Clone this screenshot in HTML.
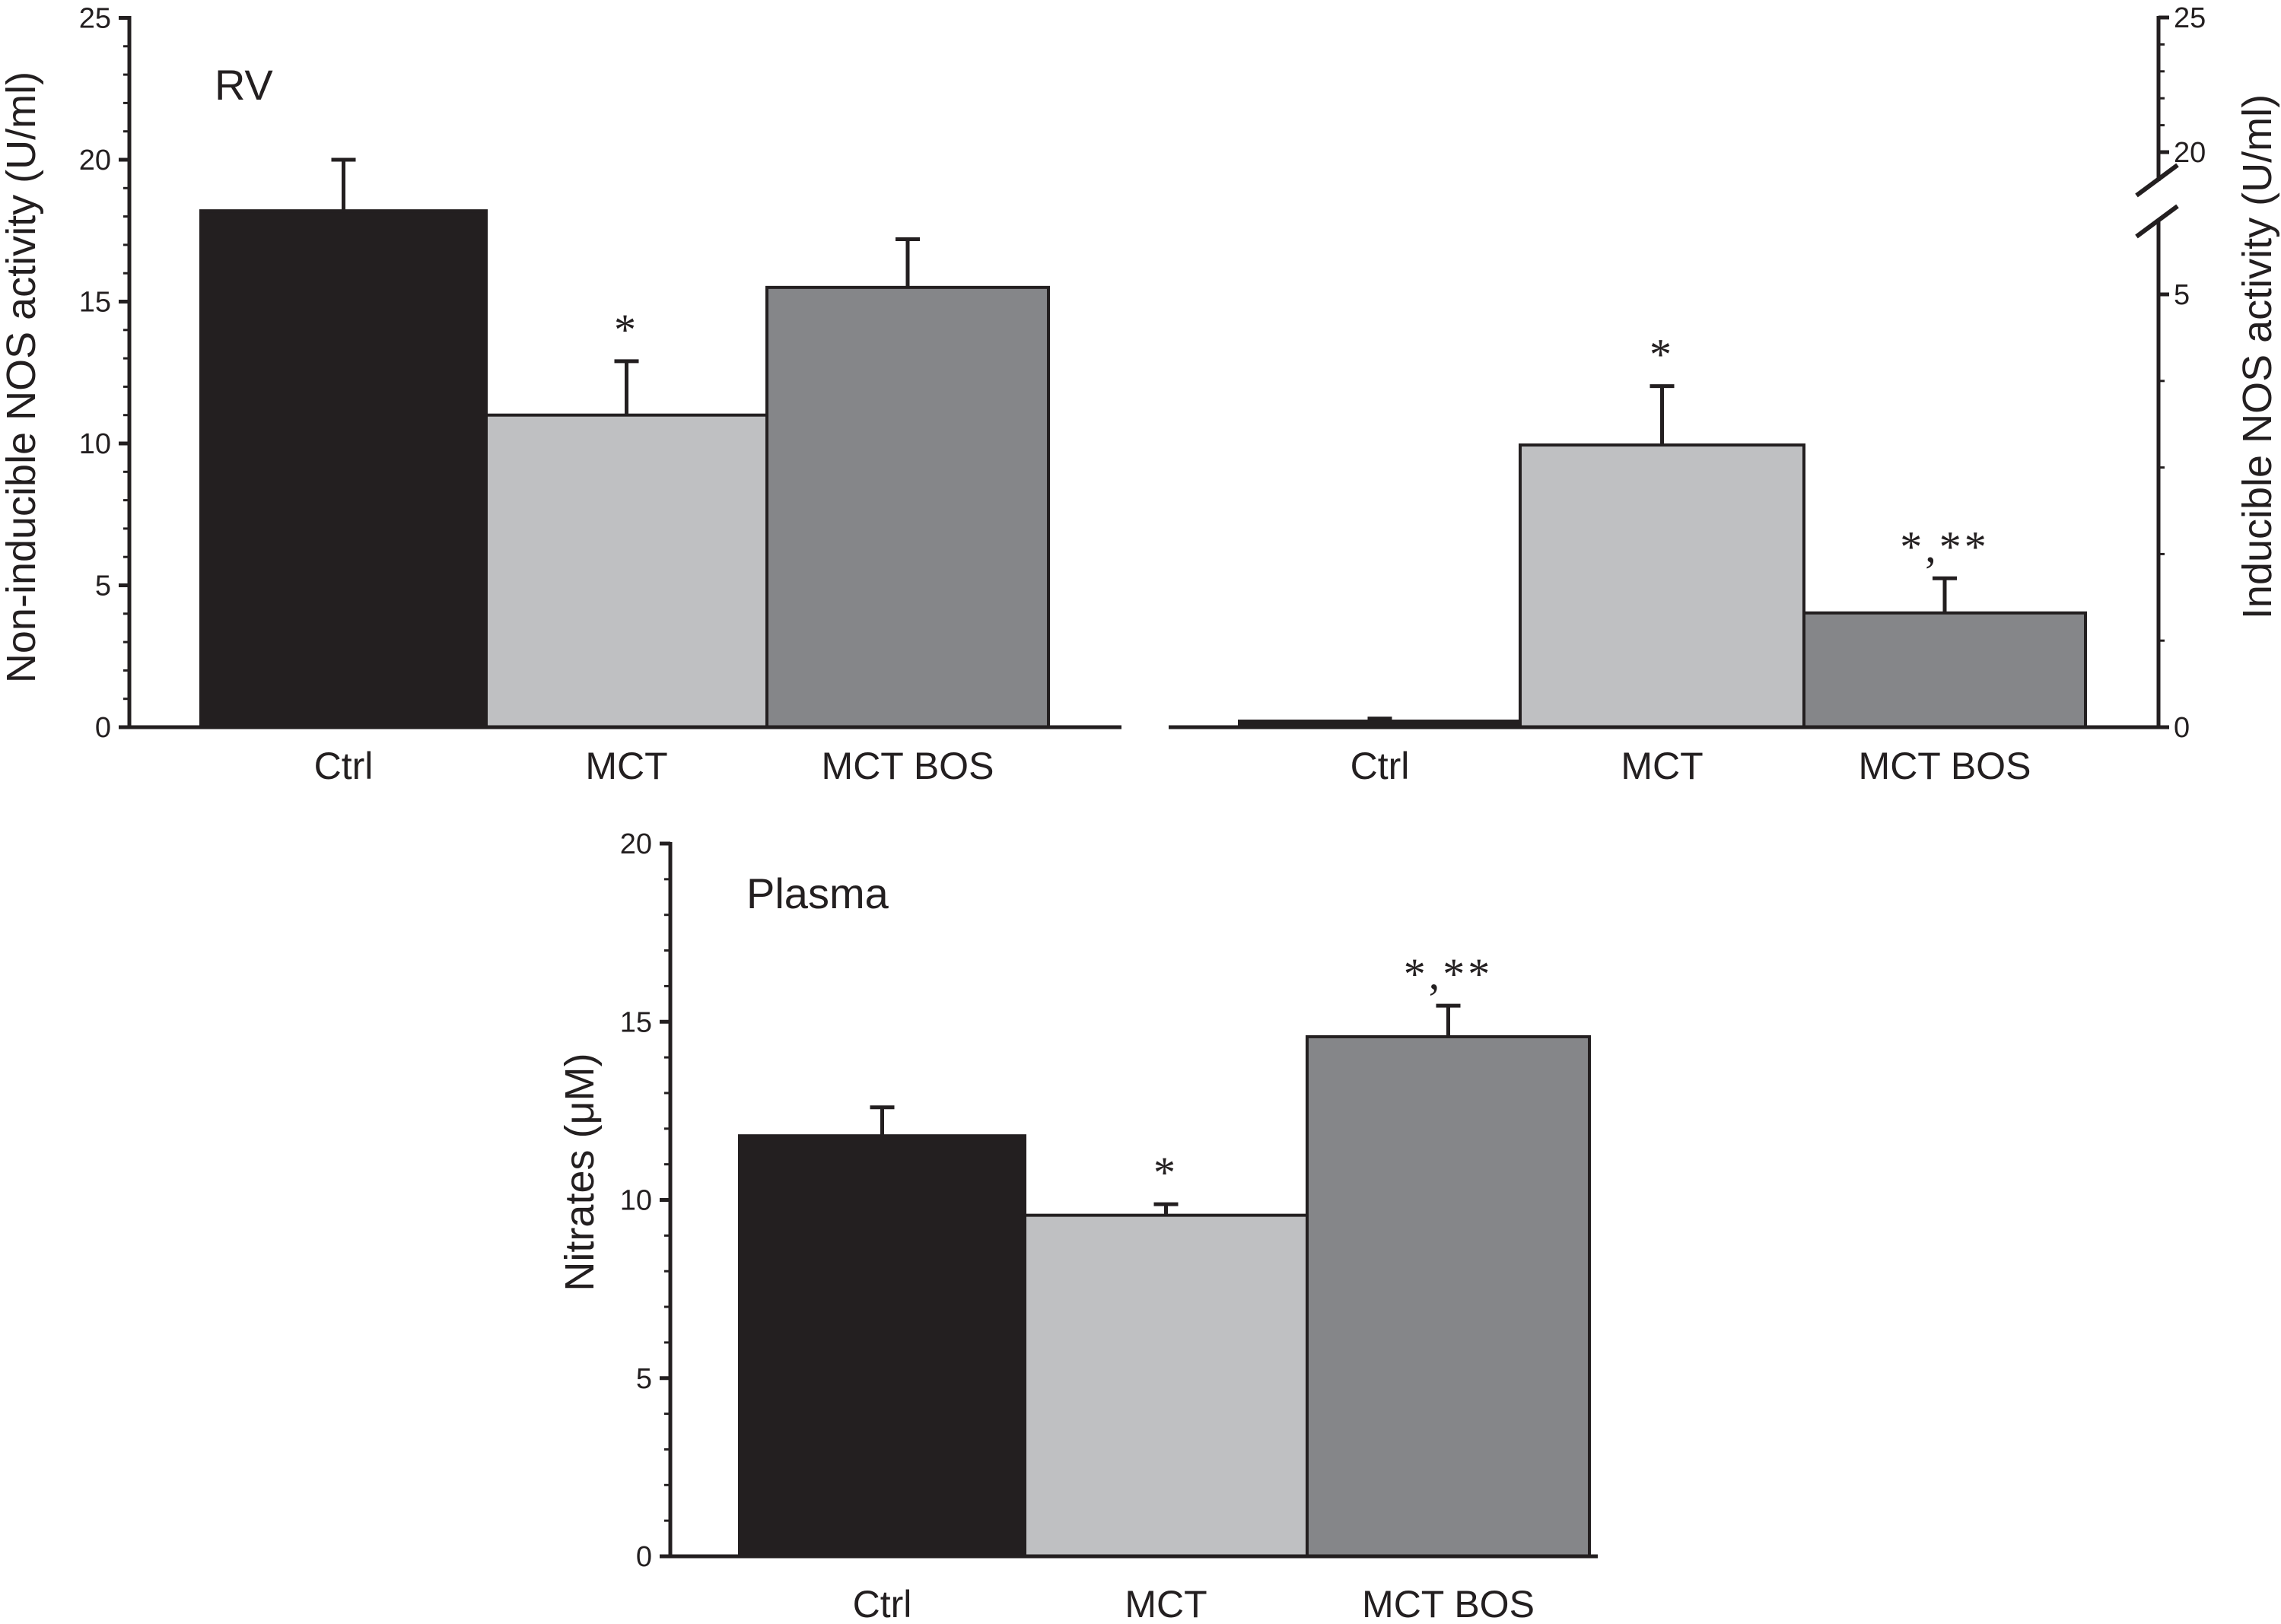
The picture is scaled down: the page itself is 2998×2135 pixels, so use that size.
<!DOCTYPE html>
<html><head><meta charset="utf-8"><style>
html,body{margin:0;padding:0;background:#fff}
svg{display:block}
text{font-family:"Liberation Sans Narrow","Liberation Sans",sans-serif;fill:#231f20}
.t{font-family:"Liberation Sans",sans-serif}
</style></head><body>
<svg id="s" width="2998" height="2135" viewBox="0 0 2998 2135"></svg>
<script>
const categories = ["Ctrl","MCT","MCT BOS"];
const rvValues = [18.2, 11.0, 15.5];
const rvErrors = [20.0, 12.9, 17.2];
const rvMarks = ["", "*", ""];
const rvTicks = [0,5,10,15,20,25];
const inosValues = [0.07, 3.26, 1.32];
const inosErrors = [0.1, 3.94, 1.72];
const inosMarks = ["", "*", "*,**"];
const inosLowTicks = [0,5];
const inosHighTicks = [20,25];
const plasmaValues = [11.8, 9.57, 14.58];
const plasmaErrors = [12.6, 9.88, 15.45];
const plasmaMarks = ["", "*", "*,**"];
const plasmaTicks = [0,5,10,15,20];
const colors = ["#231f20","#bfc0c2","#858689"];

const svg = document.getElementById('s');
const NS = "http://www.w3.org/2000/svg";
function el(tag, attrs, parent){const e=document.createElementNS(NS,tag);for(const k in attrs)e.setAttribute(k,attrs[k]);(parent||svg).appendChild(e);return e;}
function txt(s, attrs, parent){const e=el('text',attrs,parent);e.textContent=s;return e;}

function panel(o){
  const g=el('g',{});
  
  
  const y=o.y;
  o.values.forEach((v,i)=>{
    const x0=o.barX[i], x1=o.barX[i+1], cx=(x0+x1)/2;
    const r=el('rect',{x:x0,y:y(v),width:x1-x0,height:o.y0-y(v),fill:colors[i],stroke:"#231f20","stroke-width":4},g);
    
    
    const e=el('path',{d:`M${cx},${y(v)}V${y(o.errors[i])}M${cx-16},${y(o.errors[i])}H${cx+16}`,stroke:"#231f20","stroke-width":5,fill:"none"},g);
    
    
    if(o.marks[i]){const m=txt(o.marks[i],{x:cx,y:y(o.errors[i])-o.markGap,"text-anchor":"middle","font-size":58,"letter-spacing":4,style:"font-family:'Liberation Serif',serif"},g);
      
      }
    const c=txt(categories[i],{x:cx,y:o.catY,"text-anchor":"middle","font-size":50},g);
    
    
  });
  el('line',{x1:o.xA0,x2:o.xA1,y1:o.y0,y2:o.y0,stroke:"#231f20","stroke-width":5},g);
  return g;
}

function yAxis(g, x, segs, ticks, y, minorFrom, minorTo){
  segs.forEach(s=>el('line',{x1:x,x2:x,y1:s[0],y2:s[1],stroke:"#231f20","stroke-width":5},g));
  for(let v=minorFrom; v<=minorTo; v++){
    const major = ticks.includes(v);
    el('line',{x1:x,x2:x-(major?14:8),y1:y(v),y2:y(v),stroke:"#231f20","stroke-width":major?5:3},g);
  }
  ticks.forEach(v=>{
    const t=txt(String(v),{x:x-24,y:y(v)+13,"text-anchor":'end',"font-size":38},g);
    
    
  });
}

// Panel 1 RV
const y1=v=>956-v*37.3;
const g1=panel({name:'rv-chart',values:rvValues,errors:rvErrors,marks:rvMarks,y:y1,y0:956,barX:[264,639,1008,1378],xA0:168,xA1:1474,catY:1024,markGap:22});
yAxis(g1,170,[[21,958]],rvTicks,y1,0,25);
const rv=txt("RV",{x:282,y:131,"font-size":56,class:"t"},g1);


const at1=txt("Non-inducible NOS activity (U/ml)",{x:0,y:0,"font-size":54,class:"t","text-anchor":"middle",transform:"translate(46,496) rotate(-90)"},g1);



// Panel 2 iNOS (broken axis)
const y2=v=> v<=5 ? 956-v*113.8 : (v<20 ? 387-(v-5)*(387-200)/15 : 200-(v-20)*35.4);
const g2=panel({name:'inos-chart',values:inosValues,errors:inosErrors,marks:inosMarks,y:y2,y0:956,barX:[1629,1998,2371,2741],xA0:1536,xA1:2839,catY:1024,markGap:22});
const axX=2837;
[[21,238],[290,958]].forEach(s=>el('line',{x1:axX,x2:axX,y1:s[0],y2:s[1],stroke:"#231f20","stroke-width":5},g2));
for(let v=0;v<=5;v++){el('line',{x1:axX,x2:axX+(v%5?8:14),y1:y2(v),y2:y2(v),stroke:"#231f20","stroke-width":v%5?3:5},g2);}
for(let v=20;v<=25;v++){el('line',{x1:axX,x2:axX+(v%5?8:14),y1:y2(v),y2:y2(v),stroke:"#231f20","stroke-width":v%5?3:5},g2);}
inosLowTicks.concat(inosHighTicks).forEach(v=>{const t=txt(String(v),{x:axX+20,y:y2(v)+13,"font-size":38},g2);
  
  });
el('line',{x1:2808,y1:257,x2:2862,y2:217,stroke:"#231f20","stroke-width":6},g2);
el('line',{x1:2808,y1:311,x2:2862,y2:271,stroke:"#231f20","stroke-width":6},g2);
const at2=txt("Inducible NOS activity (U/ml)",{x:0,y:0,"font-size":54,class:"t","text-anchor":"middle",transform:"translate(2985,469) rotate(-90)"},g2);



// Panel 3 Plasma
const y3=v=>2046-v*46.85;
const g3=panel({name:'plasma-chart',values:plasmaValues,errors:plasmaErrors,marks:plasmaMarks,y:y3,y0:2046,barX:[972,1347,1718,2089],xA0:879,xA1:2100,catY:2126,markGap:22});
yAxis(g3,881,[[1107,2048]],plasmaTicks,y3,0,20);
const pl=txt("Plasma",{x:981,y:1194,"font-size":56,class:"t"},g3);


const at3=txt("Nitrates (μM)",{x:0,y:0,"font-size":54,class:"t","text-anchor":"middle",transform:"translate(780,1541) rotate(-90)"},g3);


</script>
</body></html>
